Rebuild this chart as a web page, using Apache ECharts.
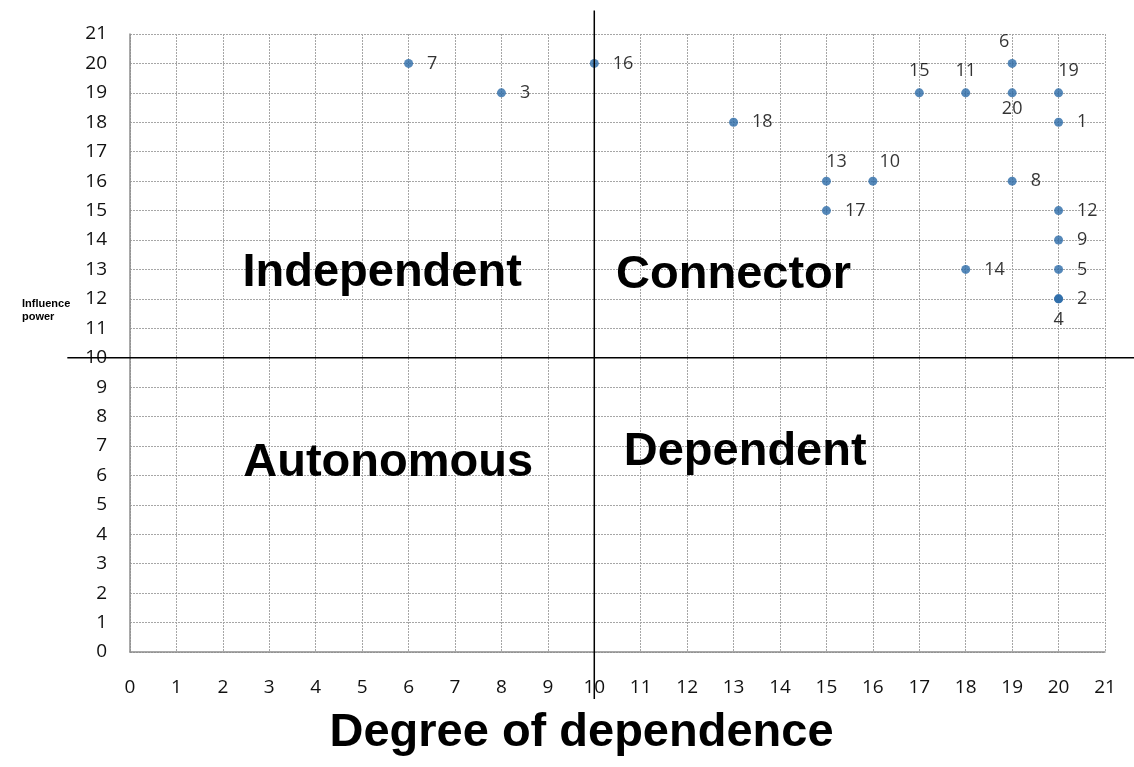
<!DOCTYPE html>
<html>
<head>
<meta charset="utf-8">
<script src="https://cdn.jsdelivr.net/npm/echarts@6/dist/echarts.min.js"></script>
<style>
  html, body { margin: 0; padding: 0; background: #fff; }
  #chart { width: 1134px; height: 767px; }
</style>
</head>
<body>
<div id="chart"></div>
<script>
// factor ids with their dependence (x) and influence (y)
const ids = ['1', '2', '3', '4', '5', '6', '7', '8', '9', '10', '11', '12', '13', '14', '15', '16', '17', '18', '19', '20']
const dependence = [20, 20, 8, 20, 20, 19, 6, 19, 20, 16, 18, 20, 15, 18, 17, 10, 15, 13, 20, 19]
const influence = [18, 12, 19, 12, 13, 20, 20, 16, 14, 16, 19, 15, 16, 13, 19, 20, 15, 18, 19, 19]

// quadrant names and where they sit in data space
const quadrantNames = ['Independent', 'Connector', 'Autonomous', 'Dependent']
const quadrantX = [5.43, 13.0, 5.56, 13.25]
const quadrantY = [12.88, 12.8, 6.42, 6.8]

const axisMin = 0
const axisMax = 21
const splitValue = 10

// label placement per id (default: right)
const labelPlace = {
  '6': { position: 'top', offset: [-8, 0] },
  '10': { position: 'top', offset: [17, 2] },
  '11': { position: 'top', offset: [0, 0] },
  '13': { position: 'top', offset: [10, 2] },
  '15': { position: 'top', offset: [0, 0] },
  '19': { position: 'top', offset: [10, 0] },
  '20': { position: 'bottom', offset: [0, -5] },
  '4': { position: 'bottom', offset: [0, 0] }
}

const chart = echarts.init(document.getElementById('chart'))

const points = ids.map((id, i) => {
  const place = labelPlace[id] || { position: 'right', offset: [6, 0] }
  return {
    name: id,
    value: [dependence[i], influence[i]],
    label: { position: place.position, offset: place.offset }
  }
})

const baseFont = 'Liberation Sans, Arial, sans-serif'

chart.setOption({
  animation: false,
  grid: { left: 130, right: 29, top: 34, bottom: 115 },
  xAxis: {
    type: 'value',
    min: axisMin,
    max: axisMax,
    interval: 1,
    name: 'Degree of dependence',
    nameLocation: 'middle',
    nameGap: 58,
    nameTextStyle: { fontSize: 47, fontWeight: 'bold', color: '#000', fontFamily: baseFont, padding: [0, 72, 0, 0] },
    axisLine: { lineStyle: { color: '#8c8c8c', width: 1.5 } },
    axisTick: { show: false },
    axisLabel: { fontSize: 19, color: '#111', margin: 26, fontFamily: 'Open Sans, sans-serif' },
    splitLine: { lineStyle: { color: '#a6a6a6', type: [2, 1], width: 1 } }
  },
  yAxis: {
    type: 'value',
    min: axisMin,
    max: axisMax,
    interval: 1,
    axisLine: { show: true, lineStyle: { color: '#8c8c8c', width: 1.5 } },
    axisTick: { show: false },
    axisLabel: { fontSize: 19, color: '#111', margin: 23, fontFamily: 'Open Sans, sans-serif' },
    splitLine: { lineStyle: { color: '#a6a6a6', type: [2, 1], width: 1 } }
  },
  series: [{
    type: 'scatter',
    symbolSize: 9,
    itemStyle: { color: '#2a6aa8' },
    label: {
      show: true,
      formatter: '{b}',
      fontSize: 18,
      color: '#000',
      distance: 8,
      fontFamily: 'Open Sans, sans-serif'
    },
    data: points
  }]
})

// quadrant divider lines and quadrant names, positioned through the axes
function drawOverlay() {
  const top = chart.convertToPixel({ gridIndex: 0 }, [splitValue, 21.8])
  const bottom = chart.convertToPixel({ gridIndex: 0 }, [splitValue, -1.6])
  const left = chart.convertToPixel({ gridIndex: 0 }, [-1.35, splitValue])
  const right = chart.convertToPixel({ gridIndex: 0 }, [22.0, splitValue])
  const elements = [
    { type: 'line', shape: { x1: top[0], y1: top[1], x2: bottom[0], y2: bottom[1] }, style: { stroke: '#000', lineWidth: 1.5 }, z: 10 },
    { type: 'line', shape: { x1: left[0], y1: left[1], x2: right[0], y2: right[1] }, style: { stroke: '#000', lineWidth: 1.5 }, z: 10 },
    {
      type: 'text', left: 22, top: 297,
      style: { text: 'Influence\npower', font: 'bold 11px ' + baseFont, fill: '#000', lineHeight: 13 }
    }
  ]
  quadrantNames.forEach((name, i) => {
    const p = chart.convertToPixel({ gridIndex: 0 }, [quadrantX[i], quadrantY[i]])
    elements.push({
      type: 'text',
      x: p[0],
      y: p[1],
      style: { text: name, font: 'bold 47px ' + baseFont, fill: '#000', align: 'center', verticalAlign: 'middle' },
      z: 5
    })
  })
  chart.setOption({ graphic: { elements: elements } })
}
drawOverlay()
</script>
</body>
</html>
